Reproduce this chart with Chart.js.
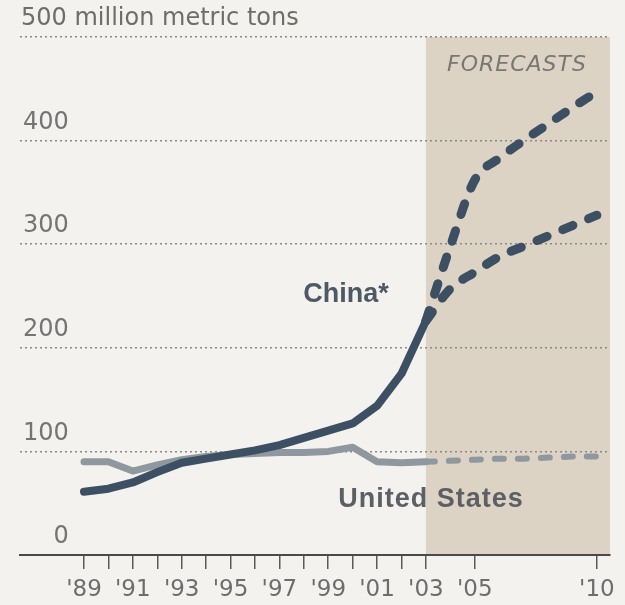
<!DOCTYPE html>
<html>
<head>
<meta charset="utf-8">
<script src="https://cdn.jsdelivr.net/npm/chart.js@4/dist/chart.umd.min.js"></script>
<style>
    html, body { margin: 0; padding: 0; background: #f4f2ee; }
    #wrap { width: 625px; height: 605px; }
</style>
</head>
<body>
<div id="wrap"><canvas id="chartTons" width="625" height="605"></canvas></div>
<script>
// actual output, 1989-2003
const years = [1989, 1990, 1991, 1992, 1993, 1994, 1995, 1996, 1997, 1998, 1999, 2000, 2001, 2002, 2003];
const chinaActual = [61, 64, 70, 80, 89, 93, 97, 101, 106, 113, 120, 127, 144, 175, 226];
const usActual = [90, 90, 81, 87, 92, 95, 97, 98, 99, 99, 100, 104, 90, 89, 90];

// forecasts, 2003-2010
const forecastYears = [2003, 2004, 2005, 2006, 2007, 2008, 2009, 2010];
const chinaHigh = [226, 298, 362, 383, 400, 416, 432, 447];
const chinaLow = [226, 257, 273, 288, 298, 308, 318, 328];
const usForecast = [90, 91, 92, 93, 93, 94, 95, 95];

// x ticks: every year to '03, then '05 and '10
const tickYears = [1989, 1990, 1991, 1992, 1993, 1994, 1995, 1996, 1997, 1998, 1999, 2000, 2001, 2002, 2003, 2005, 2010];
const tickLabels = ["'89", "", "'91", "", "'93", "", "'95", "", "'97", "", "'99", "", "'01", "", "'03", "'05", "'10"];
const yTicks = [0, 100, 200, 300, 400, 500];

const chinaColor = '#3d5063';
const usColor = '#8f989f';
const wideFont = '"DejaVu Sans", sans-serif';
const boldFont = '"Liberation Sans", Arial, sans-serif';

function points(xs, ys) {
    return xs.map((x, i) => ({ x: x, y: ys[i] }));
}

const paperPlugin = {
    id: 'paper',
    beforeDraw(chart) {
        const ctx = chart.ctx;
        const area = chart.chartArea;
        const x = chart.scales.x;
        const y = chart.scales.y;
        ctx.save();
        ctx.fillStyle = '#f4f2ee';
        ctx.fillRect(0, 0, chart.width, chart.height);
        // forecast band
        const left = x.getPixelForValue(2003);
        ctx.fillStyle = '#dcd3c5';
        ctx.fillRect(left, y.getPixelForValue(500), area.right - left, y.getPixelForValue(0) - y.getPixelForValue(500));
        ctx.restore();
    },
    afterDraw(chart) {
        const ctx = chart.ctx;
        ctx.save();
        ctx.textBaseline = 'middle';

        ctx.fillStyle = '#6d6d6d';
        ctx.textAlign = 'left';
        ctx.font = '24px ' + wideFont;
        ctx.fillText('500 million metric tons', 21, 19);

        ctx.fillStyle = '#7a7672';
        ctx.textAlign = 'center';
        ctx.font = 'italic 22px ' + wideFont;
        ctx.letterSpacing = '1px';
        ctx.fillText('FORECASTS', 517, 65);

        ctx.font = 'bold 27px ' + boldFont;
        ctx.letterSpacing = '0px';
        ctx.fillStyle = '#4d5a66';
        ctx.fillText('China*', 346, 295);
        ctx.letterSpacing = '1px';
        ctx.fillStyle = '#5c6065';
        ctx.fillText('United States', 431, 500);
        ctx.restore();
    }
};

new Chart(document.getElementById('chartTons'), {
    type: 'line',
    data: {
        datasets: [
            {
                data: points(years, chinaActual),
                borderColor: chinaColor,
                borderWidth: 8,
                borderCapStyle: 'round',
                borderJoinStyle: 'round',
                pointRadius: 0,
                tension: 0
            },
            {
                data: points(forecastYears, chinaHigh),
                borderColor: chinaColor,
                borderWidth: 9,
                borderDash: [11, 17],
                borderCapStyle: 'round',
                pointRadius: 0,
                cubicInterpolationMode: 'monotone'
            },
            {
                data: points(forecastYears, chinaLow),
                borderColor: chinaColor,
                borderWidth: 9,
                borderDash: [11, 17],
                borderCapStyle: 'round',
                pointRadius: 0,
                cubicInterpolationMode: 'monotone'
            },
            {
                data: points(years, usActual),
                borderColor: usColor,
                borderWidth: 7,
                borderCapStyle: 'round',
                borderJoinStyle: 'round',
                pointRadius: 0,
                tension: 0
            },
            {
                data: points(forecastYears, usForecast),
                borderColor: usColor,
                borderWidth: 6,
                borderDash: [9, 14],
                borderCapStyle: 'round',
                pointRadius: 0,
                tension: 0
            }
        ]
    },
    options: {
        responsive: false,
        devicePixelRatio: 1,
        animation: false,
        layout: {
            padding: { left: 20, right: 15, top: 37, bottom: 3 }
        },
        plugins: {
            legend: { display: false },
            tooltip: { enabled: false }
        },
        scales: {
            x: {
                type: 'linear',
                min: 1986.38,
                max: 2010.53,
                afterBuildTicks: (scale) => {
                    scale.ticks = tickYears.map(v => ({ value: v }));
                },
                afterFit: (scale) => {
                    scale.height = 47;
                },
                ticks: {
                    autoSkip: false,
                    maxRotation: 0,
                    padding: 10,
                    color: '#6d6d6d',
                    font: { family: wideFont, size: 23, lineHeight: 1 },
                    callback: (value, index) => tickLabels[index]
                },
                grid: {
                    drawOnChartArea: false,
                    drawTicks: true,
                    tickLength: 14,
                    color: '#5a5a5a',
                    lineWidth: 1.5
                },
                border: {
                    display: true,
                    color: '#4a4a4a',
                    width: 2
                }
            },
            y: {
                min: 0,
                max: 500,
                afterBuildTicks: (scale) => {
                    scale.ticks = yTicks.map(v => ({ value: v }));
                },
                afterFit: (scale) => {
                    scale.width = 0;
                },
                ticks: {
                    mirror: true,
                    crossAlign: 'far',
                    padding: 3,
                    labelOffset: -18,
                    color: '#747474',
                    font: { family: wideFont, size: 24 },
                    callback: (value) => value === 500 ? '' : String(value)
                },
                grid: {
                    drawTicks: false,
                    color: (c) => c.tick && c.tick.value === 0 ? 'rgba(0,0,0,0)' : '#8a8a8a',
                    lineWidth: 1.5,
                    borderDash: [2, 3]
                },
                border: { display: false, dash: [2, 3] }
            }
        }
    },
    plugins: [paperPlugin]
});
</script>
</body>
</html>
